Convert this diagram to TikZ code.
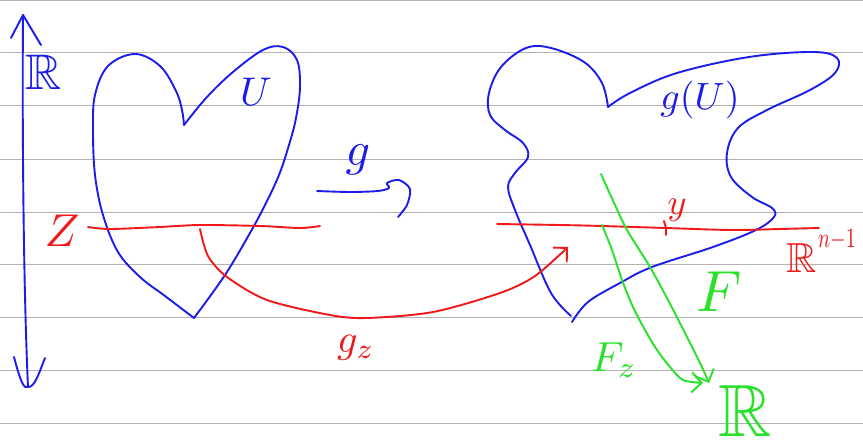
\documentclass[tikz,border=0pt]{standalone}
\usepackage{amssymb}
\usepackage{graphicx}
\usetikzlibrary{arrows.meta}
\definecolor{penblue}{RGB}{28,28,235}
\definecolor{penred}{RGB}{240,24,24}
\definecolor{pengreen}{RGB}{40,225,40}
\definecolor{rulegray}{RGB}{178,178,178}
\newcommand\penfs[2]{\scalebox{#1}{#2}}
\begin{document}
\begin{tikzpicture}[x=1pt,y=-1pt,line cap=round,line join=round,
  stroke/.style={line width=1.9pt},
  rule/.style={draw=rulegray,line width=1pt},
  lbl/.style={inner sep=0pt},
  barb/.style={-{Straight Barb[length=10pt,width=20pt,line width=1.9pt]}}]
\useasboundingbox[fill=white] (0,0) rectangle (863,444);
% ruled paper
\foreach \yy in {1,53,106,159,212,264,317,370,423}
  \draw[rule] (0,\yy) -- (863,\yy);

% vertical axis R
\coordinate (axtop) at (23,15);
\coordinate (axbot) at (28,387);
\draw[stroke,penblue] (axtop) .. controls (22,150) and (24,300) .. (axbot);
\draw[stroke,penblue] (11,38) -- (axtop) -- (41,45);
\draw[stroke,penblue] (14,357) .. controls (20,380) and (24,390) .. (axbot) .. controls (35,388) and (40,370) .. (45,358);
\node[lbl,text=penblue] (Rleft) at (44,72) {\penfs{5}{$\mathbb{R}$}};

% heart U
\draw[stroke,penblue] plot[smooth,tension=0.6] coordinates{(194,318) (165,296) (140,277) (118,252) (103,215) (95,175) (93,130) (95,95) (108,66) (135,54) (160,66) (176,91) (182,110) (184,125)};
\draw[stroke,penblue] plot[smooth,tension=0.6] coordinates{(184,125) (207,97) (233,72) (263,50) (283,47) (297,60) (300,87) (296,118) (289,145) (279,175) (265,205) (250,233) (225,275) (194,318)};
\node[lbl,text=penblue] (U) at (256,92) {\penfs{4}{$U$}};

% Z line
\draw[stroke,penred] plot[smooth] coordinates{(88,227) (110,229) (160,227) (200,225) (260,226) (300,228) (320,226)};
\node[lbl,text=penred] (Z) at (62,231) {\penfs{4.6}{$Z$}};

% map g
\coordinate (gstart) at (317,191);
\coordinate (gend) at (398,217);
\draw[stroke,penblue] plot[smooth,tension=0.5] coordinates{(gstart) (350,192) (378,191) (389,188) (387,183) (399,180) (410,189) (407,205) (gend)};
\node[lbl,text=penblue] (g) at (358,160) {\penfs{4.8}{$g$}};

% blob g(U)
\draw[stroke,penblue] plot[smooth,tension=0.6] coordinates{(608,107) (602,83) (584,62) (551,48) (526,48) (501,67) (489,93) (490,115) (505,130) (523,143) (528,157) (515,173) (508,187) (515,210) (530,245) (551,293) (571,316)};
\draw[stroke,penblue] plot[smooth,tension=0.6] coordinates{(608,107) (630,93) (677,73) (749,57) (813,52) (837,58) (835,73) (810,90) (767,110) (738,128) (727,153) (731,177) (752,197) (772,208) (774,217) (756,230) (713,247) (652,267) (620,283) (588,302) (572,322)};
\node[lbl,text=penblue] (gU) at (700,100) {\penfs{3.8}{$g(U)$}};

% R^{n-1} line
\draw[stroke,penred] plot[smooth] coordinates{(497,224) (560,225) (602,226) (666,228) (731,230) (780,229) (819,228)};
\coordinate (ypt) at (666,228);
\draw[stroke,penred] (664,221) -- (ypt) -- (666,235);
\node[lbl,text=penred] (y) at (677,210) {\penfs{3.6}{$y$}};
\node[lbl,text=penred] (Rn) at (802,258) {\penfs{4.2}{$\mathbb{R}$}};
\node[lbl,text=penred,anchor=south west] (Rnexp) at (818,250) {\scalebox{2.0}[2.8]{$n{-}1$}};

% g_z curve
\coordinate (gzs) at (200,229);
\coordinate (gze) at (568,247);
\draw[stroke,penred,barb] plot[smooth] coordinates{(gzs) (208,256) (227,277) (267,300) (330,315) (367,318) (433,312) (500,293) (535,276) (gze)};
\node[lbl,text=penred] (gz) at (356,348) {\penfs{4}{$g_z$}};

% F and F_z
\coordinate (Fs) at (601,174);
\coordinate (Fe) at (709,383);
\draw[stroke,pengreen,barb] plot[smooth] coordinates{(Fs) (615,205) (627,230) (650,267) (668,300) (685,333) (701,365) (Fe)};
\coordinate (Fzs) at (602,225);
\coordinate (Fze) at (703,383);
\draw[stroke,pengreen,barb] plot[smooth] coordinates{(Fzs) (612,250) (622,280) (633,307) (645,330) (657,350) (670,367) (683,380) (Fze)};
\node[lbl,text=pengreen] (F) at (719,292) {\penfs{5.8}{$F$}};
\node[lbl,text=pengreen] (Fz) at (614,360) {\penfs{4.2}{$F_z$}};
\node[lbl,text=pengreen] (Rg) at (745,411) {\penfs{7.4}{$\mathbb{R}$}};
\end{tikzpicture}
\end{document}
